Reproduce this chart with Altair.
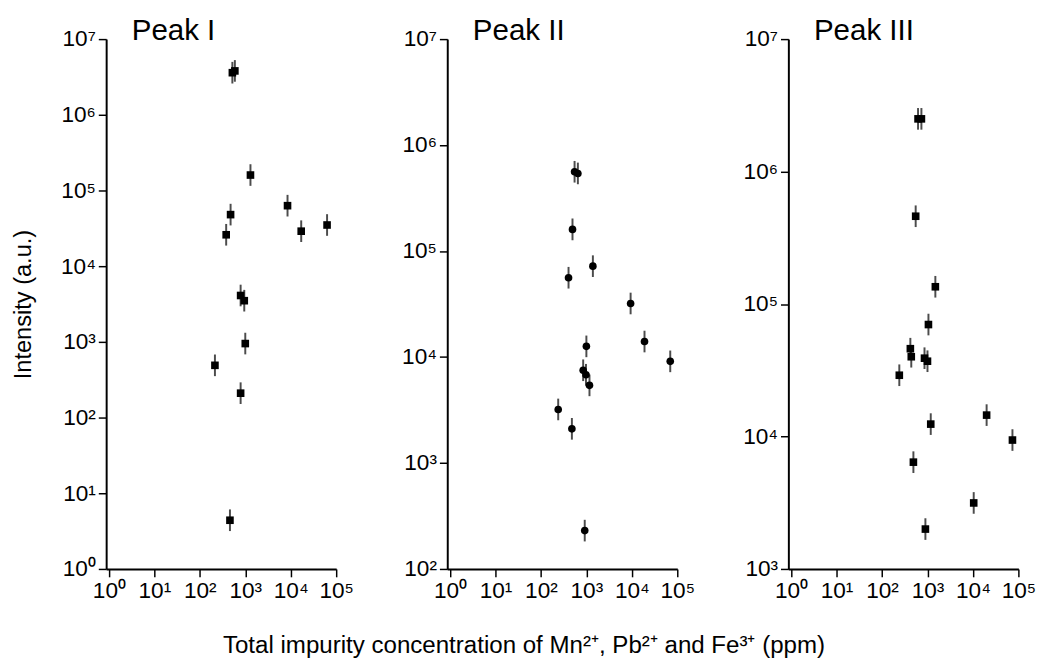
import altair as alt
import pandas as pd

# ---- data (concentration in ppm, intensity in a.u.) ----
peak1_conc = [520, 590, 1300, 475, 380, 8500, 17000, 63000, 790, 950, 1000, 215, 790, 460]
peak1_int = [3.6e6, 3.8e6, 1.6e5, 4.8e4, 2.6e4, 6.3e4, 2.9e4, 3.5e4, 4100, 3500, 950, 490, 210, 4.4]

peak2_conc = [550, 650, 495, 405, 1390, 9400, 19000, 70000, 1000, 850, 980, 1170, 240, 480, 920]
peak2_int = [5.6e5, 5.4e5, 1.6e5, 5.6e4, 7.2e4, 3.2e4, 1.4e4, 9100, 1.26e4, 7500, 6800, 5400, 3200, 2100, 230]

peak3_conc = [620, 735, 550, 1490, 1050, 420, 440, 860, 1000, 240, 1180, 490, 900, 10400, 20000, 74000]
peak3_int = [2.5e6, 2.5e6, 4.6e5, 1.35e5, 7.0e4, 4.6e4, 4.0e4, 3.9e4, 3.7e4, 2.9e4, 1.24e4, 6400, 2000, 3150, 1.45e4, 9400]

panel_titles = ["Peak I", "Peak II", "Peak III"]
y_min_exponents = [0, 2, 3]
x_tick_values = [1, 10, 100, 1000, 10000, 100000]
x_title = "Total impurity concentration of Mn\u00b2\u207a, Pb\u00b2\u207a and Fe\u00b3\u207a (ppm)"
y_title = "Intensity (a.u.)"

FONT = "Liberation Sans"
SUP_EXPR = ("'10' + ['\u2070','\u00b9','\u00b2','\u00b3','\u2074','\u2075','\u2076','\u2077']"
            "[round(log(datum.value)/LN10)]")


def panel(conc, inten, title, ymin_exp, shape, show_ytitle):
    df = pd.DataFrame({"conc": conc, "intensity": inten})
    y_vals = [10 ** k for k in range(ymin_exp, 8)]
    x = alt.X(
        "conc:Q",
        scale=alt.Scale(type="log", domain=[0.87, 100000], nice=False),
        axis=alt.Axis(values=x_tick_values, labelExpr=SUP_EXPR, title=None),
    )
    y_axis = alt.Axis(values=y_vals, labelExpr=SUP_EXPR, title=y_title) if show_ytitle else \
        alt.Axis(values=y_vals, labelExpr=SUP_EXPR, title=None)
    y = alt.Y(
        "intensity:Q",
        scale=alt.Scale(type="log", domain=[10 ** ymin_exp, 10 ** 7], nice=False),
        axis=y_axis,
    )
    bars = alt.Chart(df).mark_tick(orient="vertical", size=22, thickness=2, color="black").encode(x=x, y=y)
    pts = alt.Chart(df).mark_point(shape=shape, filled=True, size=60, color="black", opacity=1).encode(x=x, y=y)
    return alt.layer(bars, pts).properties(
        width=234,
        height=539,
        title=alt.TitleParams(
            title, anchor="start", frame="group", dx=26, offset=-42, baseline="alphabetic",
            fontSize=30, font=FONT, fontWeight="normal", color="black",
        ),
    )


p1 = panel(peak1_conc, peak1_int, panel_titles[0], y_min_exponents[0], "square", True)
p2 = panel(peak2_conc, peak2_int, panel_titles[1], y_min_exponents[1], "circle", False)
p3 = panel(peak3_conc, peak3_int, panel_titles[2], y_min_exponents[2], "square", False)

chart = (
    alt.hconcat(p1, p2, p3, spacing=48)
    .properties(
        title=alt.TitleParams(
            x_title, orient="bottom", anchor="middle", fontSize=24.5, font=FONT,
            fontWeight="normal", color="black", offset=33,
        ),
        padding={"left": 12, "top": 11, "right": 5, "bottom": 5},
    )
    .configure_view(stroke=None)
    .configure_axis(
        grid=False,
        domainColor="black",
        domainWidth=2,
        tickColor="black",
        tickWidth=1.5,
        tickSize=8,
        labelFont=FONT,
        labelFontSize=23,
        labelColor="black",
        labelPadding=3,
        labelFlush=False,
        labelOverlap=False,
        titleFont=FONT,
        titleFontSize=24,
        titleFontWeight="normal",
        titleColor="black",
        titlePadding=25,
    )
)

chart.save("out.html", embed_options={"renderer": "svg", "actions": False})
